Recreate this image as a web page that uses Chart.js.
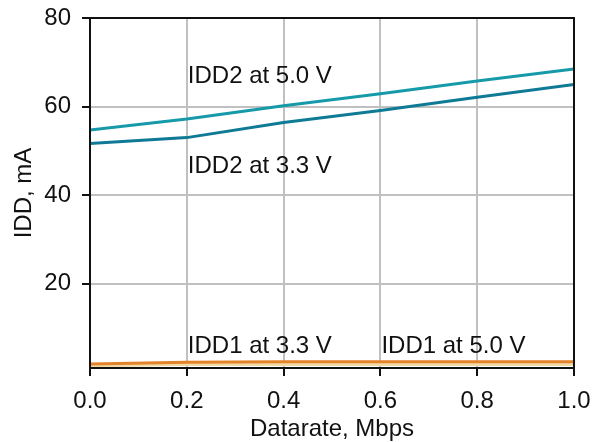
<!DOCTYPE html>
<html>
<head>
<meta charset="utf-8">
<script src="https://cdn.jsdelivr.net/npm/chart.js@4/dist/chart.umd.min.js"></script>
<style>
  body { margin: 0; background: #fff; }
  #wrap { width: 592px; height: 442px; position: relative; }
</style>
</head>
<body>
<div id="wrap"><canvas id="chart"></canvas></div>
<script>
// data
const datarate = [0.0, 0.2, 0.4, 0.6, 0.8, 1.0];
const idd2At50 = [54.7, 57.2, 60.2, 62.9, 65.8, 68.5];
const idd2At33 = [51.7, 53.0, 56.4, 59.1, 62.1, 65.0];
const idd1At50 = [1.9, 2.3, 2.4, 2.4, 2.4, 2.4];
const idd1At33 = [1.5, 1.8, 1.8, 1.8, 1.8, 1.8];

const xTicks = [0.0, 0.2, 0.4, 0.6, 0.8, 1.0];
const yTicks = [20, 40, 60, 80];

// curve labels (text, x, y in data units)
const labelText = ['IDD2 at 5.0 V', 'IDD2 at 3.3 V', 'IDD1 at 3.3 V', 'IDD1 at 5.0 V'];
const labelX = [0.2, 0.2, 0.2, 0.6];
const labelY = [66.9, 46.5, 5.8, 5.8];

const FONT = "'Liberation Sans', Arial, sans-serif";
const FS = 24;

function toPoints(ys) {
  return datarate.map((x, i) => ({ x: x, y: ys[i] }));
}

const curveLabels = {
  id: 'curveLabels',
  afterDatasetsDraw(chart) {
    const ctx = chart.ctx;
    const xs = chart.scales.x, ys = chart.scales.y;
    ctx.save();
    ctx.font = FS + 'px ' + FONT;
    ctx.fillStyle = '#111';
    ctx.textAlign = 'left';
    ctx.textBaseline = 'middle';
    labelText.forEach((t, i) => {
      ctx.fillText(t, xs.getPixelForValue(labelX[i]) + 1, ys.getPixelForValue(labelY[i]));
    });
    ctx.restore();
  }
};

// box around the plot area
const frame = {
  id: 'frame',
  afterDraw(chart) {
    const a = chart.chartArea;
    const ctx = chart.ctx;
    ctx.save();
    ctx.strokeStyle = '#111';
    ctx.lineWidth = 2;
    ctx.strokeRect(a.left, a.top, a.right - a.left, a.bottom - a.top);
    ctx.restore();
  }
};

Chart.defaults.font.family = FONT;
Chart.defaults.color = '#111';

new Chart(document.getElementById('chart'), {
  type: 'line',
  data: {
    datasets: [
      { label: 'IDD2 at 5.0 V', data: toPoints(idd2At50), borderColor: '#169aaa', borderWidth: 3 },
      { label: 'IDD2 at 3.3 V', data: toPoints(idd2At33), borderColor: '#0e7a96', borderWidth: 3 },
      { label: 'IDD1 at 5.0 V', data: toPoints(idd1At50), borderColor: '#e3832a', borderWidth: 3 },
      { label: 'IDD1 at 3.3 V', data: toPoints(idd1At33), borderColor: '#f2dba6', borderWidth: 3 },
    ]
  },
  options: {
    responsive: true,
    maintainAspectRatio: false,
    animation: false,
    layout: { padding: { top: 18, right: 18, left: 0, bottom: 0 } },
    elements: { point: { radius: 0 }, line: { tension: 0 } },
    plugins: { legend: { display: false }, tooltip: { enabled: false } },
    scales: {
      x: {
        type: 'linear',
        min: 0, max: 1,
        afterBuildTicks: s => { s.ticks = xTicks.map(v => ({ value: v })); },
        afterFit: s => { s.height = 74; s.paddingLeft = 0; s.paddingRight = 0; },
        ticks: {
          font: { size: FS }, padding: 11, maxRotation: 0,
          callback: v => v.toFixed(1)
        },
        grid: { color: '#c0c0c0', lineWidth: 2, tickLength: 8, tickColor: '#111', tickWidth: 2 },
        border: { color: '#111', width: 2 },
        title: { display: true, text: 'Datarate, Mbps', font: { size: FS }, padding: { top: 0, bottom: -2 } }
      },
      y: {
        min: 1, max: 80,
        afterBuildTicks: s => { s.ticks = yTicks.map(v => ({ value: v })); },
        afterFit: s => { s.width = 90; s.paddingTop = 0; s.paddingBottom = 0; },
        ticks: { font: { size: FS }, padding: 11 },
        grid: { color: '#c0c0c0', lineWidth: 2, tickLength: 8, tickColor: '#111', tickWidth: 2 },
        border: { color: '#111', width: 2 },
        title: { display: true, text: 'IDD, mA', font: { size: FS }, padding: { top: 10, bottom: 0 } }
      }
    }
  },
  plugins: [curveLabels, frame]
});
</script>
</body>
</html>
